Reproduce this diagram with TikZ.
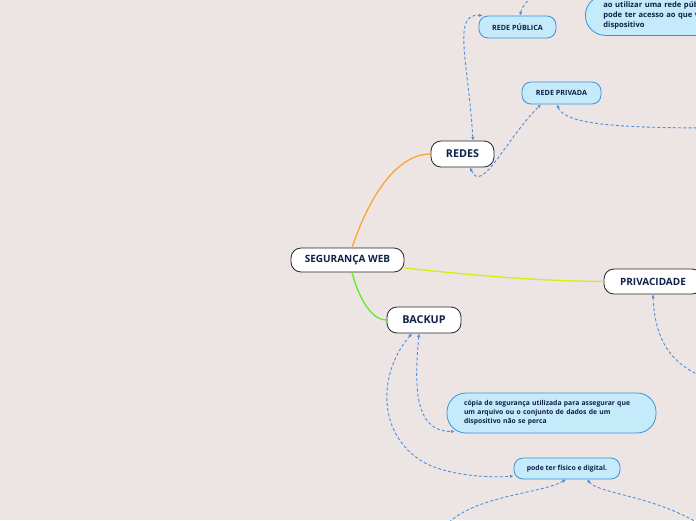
\documentclass[tikz,border=0pt]{standalone}
\usepackage{fontspec}
\setmainfont{Open Sans}
\usetikzlibrary{arrows.meta}
\definecolor{mmback}{RGB}{237,228,228}
\definecolor{mmink}{RGB}{16,32,72}
\definecolor{mmfill}{RGB}{197,234,250}
\definecolor{mmedge}{RGB}{58,146,218}
\definecolor{mmlink}{RGB}{74,144,226}
\definecolor{brorange}{RGB}{250,166,52}
\definecolor{brgreen}{RGB}{104,232,40}
\definecolor{bryellow}{RGB}{206,240,20}

\begin{document}
\begin{tikzpicture}[
    x=1pt, y=-1pt,
    >={Latex[length=3.6pt,width=3.4pt]},
    topic/.style={draw=black!85, fill=white, line width=0.8pt, rounded corners=10pt,
      inner sep=0pt, text=mmink, font=\bfseries\fontsize{10}{12}\selectfont},
    sub/.style={draw=mmedge, fill=mmfill, line width=0.8pt, rounded corners=9pt,
      inner sep=0pt, text=mmink, font=\bfseries\fontsize{7.2}{8}\selectfont},
    note/.style={sub, rounded corners=19pt, align=left, inner xsep=17pt, inner ysep=0pt,
      font=\bfseries\fontsize{6.8}{9}\selectfont},
    branch/.style={line width=1.3pt},
    link/.style={draw=mmlink, line width=0.9pt, dash pattern=on 3pt off 2.2pt},
  ]

  \fill[mmback] (0,0) rectangle (696,520);
  \useasboundingbox (0,0) rectangle (696,520);

  %% ================= the main topics =================
  \node[topic, minimum width=113pt, minimum height=24pt] (root)  at (347.5,260) {SEGURANÇA WEB};
  \node[topic, minimum width=63pt,  minimum height=26pt, font=\bfseries\fontsize{10.8}{12}\selectfont] (redes) at (462.5,154) {REDES};
  \node[topic, minimum width=74pt,  minimum height=26pt, font=\bfseries\fontsize{10.8}{12}\selectfont] (backup) at (424,320)  {BACKUP};
  \node[topic, minimum width=98pt,  minimum height=25pt] (priv)  at (653,281.5) {PRIVACIDADE};

  %% ================= the sub topics and notes =================
  \node[sub, minimum width=77pt,  minimum height=22pt] (pub)     at (517.5,27)  {REDE PÚBLICA};
  \node[sub, minimum width=79pt,  minimum height=22pt] (prv)     at (561.5,93)  {REDE PRIVADA};
  \node[sub, minimum width=106pt, minimum height=21pt, font=\bfseries\fontsize{6.9}{8}\selectfont] (digital) at (567,468.5) {pode ter físico e digital.};
  \node[note, text width=175pt, minimum height=40pt] (copia) at (551.5,413)
    {cópia de segurança utilizada para assegurar que\\
     um arquivo ou o conjunto de dados de um\\
     dispositivo não se perca};
  \node[note, text width=170pt, minimum height=40pt, anchor=north west, rounded corners=20pt,
    inner xsep=18pt, font=\bfseries\fontsize{7.6}{10}\selectfont] (acesso) at (585,-5)
    {ao utilizar uma rede pública\\
     pode ter acesso ao que você\\
     dispositivo};

  %% ================= branches from the centre =================
  \draw[branch, brorange] ([xshift=4.5pt]root.north) .. controls (368,200) and (395,154) .. (redes.west);
  \draw[branch, brgreen]  ([xshift=4.5pt]root.south) .. controls (358,295) and (370,320) .. (backup.west);
  \draw[branch, bryellow] ([yshift=-8pt]root.east) .. controls (480,276) and (540,281) .. (priv.west);

  %% ================= dashed relations =================
  % the ends that leave the page
  \coordinate (offA) at (540,-12);
  \coordinate (offB) at (720,128);
  \coordinate (offC) at (712,380);
  \coordinate (offD) at (438,536);
  \coordinate (offE) at (712,532);

  \draw[link, <->] ([xshift=10.5pt]redes.north) .. controls (468,60) and (452,13) .. ([xshift=4pt]pub.north west);
  \draw[link, <->] ([xshift=7.5pt]redes.south) .. controls (482,195) and (505,140) .. ([xshift=-20.5pt]prv.south);
  \draw[link, <-]  ([xshift=2.5pt]pub.north) .. controls (522,6) and (530,-2) .. (offA);
  \draw[link, <-]  ([xshift=-4.5pt]prv.south) .. controls (565,125) and (620,128) .. (offB);
  \draw[link, <-]  (priv.south) .. controls (655,345) and (675,368) .. (offC);

  \draw[link, <->] ([xshift=-12pt]backup.south) .. controls (380,370) and (375,430) .. (420,460)
    .. controls (445,476) and (490,478) .. ([yshift=-7.5pt]digital.west);
  \draw[link, <->] ([xshift=-5pt]backup.south) .. controls (415,380) and (412,432) .. ([xshift=8pt,yshift=2pt]copia.south west);
  \draw[link, <-]  ([xshift=-1pt]digital.south) .. controls (540,495) and (460,495) .. (offD);
  \draw[link, <-]  ([xshift=20pt]digital.south) .. controls (600,495) and (660,495) .. (offE);

\end{tikzpicture}
\end{document}
